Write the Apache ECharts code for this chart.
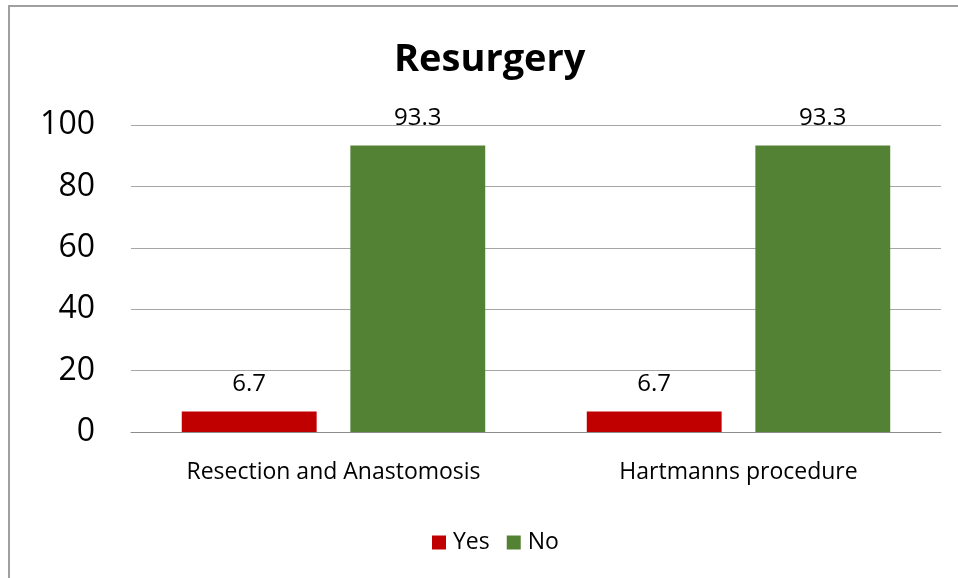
<!DOCTYPE html>
<html>
<head>
<meta charset="utf-8">
<script src="https://cdn.jsdelivr.net/npm/echarts@6/dist/echarts.min.js"></script>
<style>
  html, body { margin: 0; padding: 0; background: #fff; }
  #chart { width: 958px; height: 578px; }
</style>
</head>
<body>
<div id="chart"></div>
<script>
// Resurgery rates (%) by procedure
const categories = ['Resection and Anastomosis', 'Hartmanns procedure'];
const yesValues = [6.7, 6.7];
const noValues = [93.3, 93.3];
const yTicks = [0, 20, 40, 60, 80, 100];

const FONT = '"Open Sans", Lato, sans-serif';
const chart = echarts.init(document.getElementById('chart'));

chart.setOption({
  backgroundColor: '#ffffff',
  animation: false,
  graphic: [{
    // outer chart frame (left and top edges visible)
    type: 'polyline',
    shape: { points: [[9, 600], [9, 6], [980, 6]] },
    style: { stroke: '#a0a0a0', lineWidth: 2, fill: null },
    silent: true
  }],
  title: {
    text: 'Resurgery',
    left: 394,
    top: 41,
    padding: 0,
    textStyle: { fontFamily: FONT, fontSize: 38, fontWeight: 'bold', color: '#000' }
  },
  legend: {
    data: ['Yes', 'No'],
    bottom: 19,
    left: 427,
    itemWidth: 14,
    itemHeight: 14,
    itemGap: 17,
    icon: 'rect',
    textStyle: { fontFamily: FONT, fontSize: 23, color: '#000', padding: [0, 0, 0, 2] }
  },
  grid: { left: 131, right: 17, top: 125, bottom: 146 },
  xAxis: {
    type: 'category',
    data: categories,
    axisLine: { lineStyle: { color: '#8c8c8c', width: 1 } },
    axisTick: { show: false },
    axisLabel: { fontFamily: FONT, fontSize: 23, color: '#000', margin: 29 }
  },
  yAxis: {
    type: 'value',
    min: yTicks[0],
    max: yTicks[yTicks.length - 1],
    interval: 20,
    axisLine: { show: false },
    axisTick: { show: false },
    splitLine: { lineStyle: { color: '#a6a6a6', width: 1 } },
    axisLabel: { fontFamily: FONT, fontSize: 32, color: '#000', margin: 36, padding: [3, 0, 0, 0] }
  },
  series: [
    {
      name: 'Yes',
      type: 'bar',
      data: yesValues,
      barWidth: '33.3%',
      barGap: '25%',
      itemStyle: { color: '#C00000' },
      label: { show: true, position: 'top', distance: 15, fontFamily: FONT, fontSize: 24, color: '#000' }
    },
    {
      name: 'No',
      type: 'bar',
      data: noValues,
      barWidth: '33.3%',
      barGap: '25%',
      itemStyle: { color: '#548235' },
      label: { show: true, position: 'top', distance: 15, fontFamily: FONT, fontSize: 24, color: '#000' }
    }
  ]
});
</script>
</body>
</html>
